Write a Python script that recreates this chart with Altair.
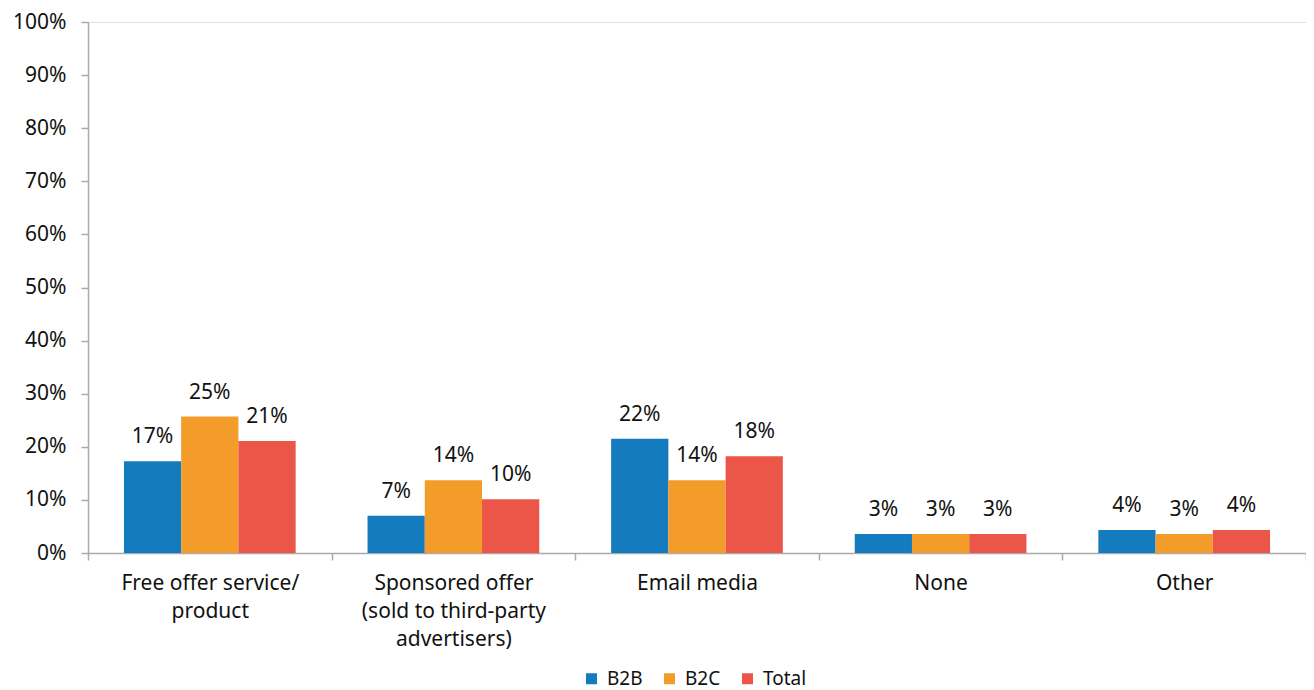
import altair as alt
import pandas as pd

categories = ["Free offer service/|product",
              "Sponsored offer|(sold to third-party|advertisers)",
              "Email media", "None", "Other"]
series = ["B2B", "B2C", "Total"]
b2b = [17.3, 7.0, 21.5, 3.6, 4.35]
b2c = [25.7, 13.7, 13.7, 3.6, 3.6]
total = [21.1, 10.1, 18.2, 3.6, 4.35]
b2b_lbl = ["17%", "7%", "22%", "3%", "4%"]
b2c_lbl = ["25%", "14%", "14%", "3%", "3%"]
total_lbl = ["21%", "10%", "18%", "3%", "4%"]
colors = ["#137BBE", "#F39C2A", "#EC5648"]

rows = []
for vals, lbls, s in [(b2b, b2b_lbl, "B2B"), (b2c, b2c_lbl, "B2C"), (total, total_lbl, "Total")]:
    for c, v, l in zip(categories, vals, lbls):
        rows.append({"cat": c, "series": s, "value": v / 100.0, "label": l})
df = pd.DataFrame(rows)

FONT = "Noto Sans"
FS = 21

x = alt.X("cat:N", sort=categories, title=None,
          scale=alt.Scale(paddingInner=0, paddingOuter=0),
          axis=alt.Axis(labelExpr="split(datum.label, '|')", labelAngle=0,
                        labelFontSize=FS, labelLineHeight=28, labelColor="#111111",
                        labelFont=FONT, labelPadding=12, tickBand="extent",
                        tickSize=7, tickColor="#aaaaaa", domainColor="#aaaaaa",
                        domainWidth=1.5, tickWidth=1.5, labelLimit=300))
xo = alt.XOffset("series:N", sort=series,
                 scale=alt.Scale(paddingOuter=0.628, paddingInner=0))
y = alt.Y("value:Q", title=None,
          scale=alt.Scale(domain=[0, 1]),
          axis=alt.Axis(format=".0%", values=[i / 10 for i in range(11)],
                        grid=False, labelFontSize=FS, labelFont=FONT,
                        labelColor="#111111", labelPadding=15, tickSize=7,
                        tickColor="#aaaaaa", domainColor="#aaaaaa",
                        domainWidth=1.5, tickWidth=1.5))

bars = alt.Chart(df).mark_bar().encode(
    x=x, xOffset=xo, y=y,
    color=alt.Color("series:N", sort=series,
                    scale=alt.Scale(domain=series, range=colors),
                    legend=alt.Legend(title=None, orient="none", direction="horizontal",
                                      legendX=494, legendY=647, symbolType="square",
                                      symbolSize=121, symbolStrokeWidth=0,
                                      labelFontSize=19, labelFont=FONT,
                                      labelColor="#111111", columnPadding=17,
                                      labelOffset=6))
)
text = alt.Chart(df).mark_text(baseline="alphabetic", dy=-18, fontSize=FS,
                               font=FONT, color="#111111").encode(
    x=x, xOffset=xo, y=y, text="label:N")

chart = alt.layer(bars, text).properties(
    width=1218, height=531,
    autosize=alt.AutoSizeParams(type="none"),
    padding={"left": 80, "top": 14, "right": 0, "bottom": 138},
).configure_view(stroke=None).configure(font=FONT)

chart.save("out.html", embed_options={"renderer": "svg", "actions": False})
